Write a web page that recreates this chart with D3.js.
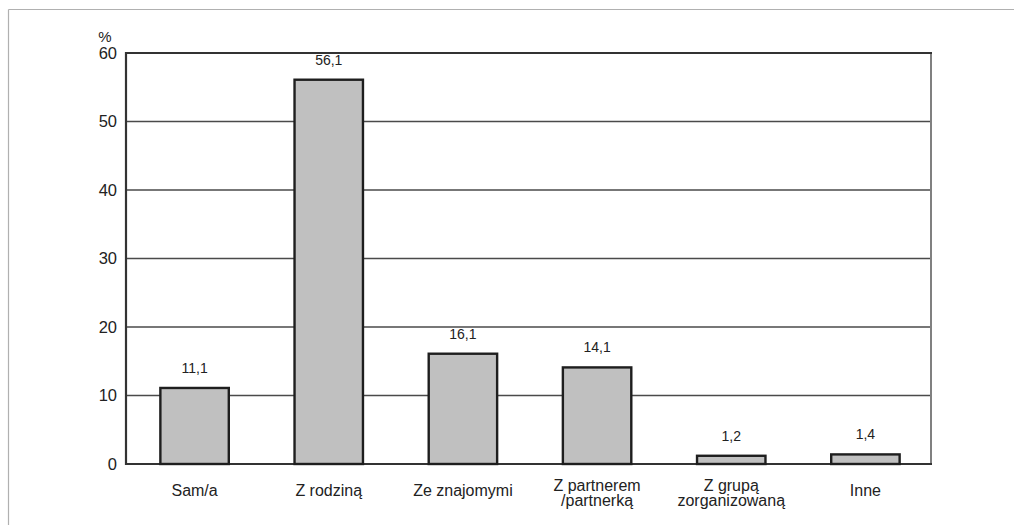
<!DOCTYPE html>
<html>
<head>
<meta charset="utf-8">
<script src="https://cdn.jsdelivr.net/npm/d3@7/dist/d3.min.js"></script>
<style>
  html, body { margin: 0; padding: 0; background: #fff; }
  svg { display: block; font-family: "Liberation Sans", Arial, sans-serif; }
</style>
</head>
<body>
<svg id="chart" width="1014" height="525"></svg>
<script>
// Categories (label lines) and percentages
const categories = [
  ["Sam/a"],
  ["Z rodziną"],
  ["Ze znajomymi"],
  ["Z partnerem", "/partnerką"],
  ["Z grupą", "zorganizowaną"],
  ["Inne"]
];
const values = [11.1, 56.1, 16.1, 14.1, 1.2, 1.4];
const valueLabels = ["11,1", "56,1", "16,1", "14,1", "1,2", "1,4"];
const yTicks = [0, 10, 20, 30, 40, 50, 60];

const svg = d3.select("#chart");
const plot = { left: 126, top: 53, right: 931, bottom: 464 };

// Outer open frame (top and left edges)
svg.append("line").attr("x1", 8.5).attr("x2", 1014).attr("y1", 9.5).attr("y2", 9.5)
  .attr("stroke", "#b0b0b0").attr("stroke-width", 1.2);
svg.append("line").attr("x1", 8.5).attr("x2", 8.5).attr("y1", 9.5).attr("y2", 525)
  .attr("stroke", "#b0b0b0").attr("stroke-width", 1.2);

const x = d3.scaleBand()
  .domain(categories.map((d, i) => i))
  .range([plot.left + 1.5, plot.right + 1.5])
  .paddingInner(0.49)
  .paddingOuter(0.245);

const y = d3.scaleLinear().domain([0, 60]).range([plot.bottom, plot.top]);

// Horizontal gridlines
svg.append("g")
  .selectAll("line")
  .data(yTicks.filter(t => t > 0 && t < 60))
  .join("line")
  .attr("x1", plot.left).attr("x2", plot.right)
  .attr("y1", d => y(d)).attr("y2", d => y(d))
  .attr("stroke", "#4a4a4a").attr("stroke-width", 1.3);

// Plot frame
svg.append("line").attr("x1", plot.right).attr("x2", plot.right)
  .attr("y1", plot.top).attr("y2", plot.bottom)
  .attr("stroke", "#808080").attr("stroke-width", 2);
svg.append("line").attr("x1", plot.left - 1).attr("x2", plot.right + 1)
  .attr("y1", plot.top).attr("y2", plot.top)
  .attr("stroke", "#333").attr("stroke-width", 2);
svg.append("line").attr("x1", plot.left).attr("x2", plot.right + 1)
  .attr("y1", plot.bottom).attr("y2", plot.bottom)
  .attr("stroke", "#333").attr("stroke-width", 2);
svg.append("line").attr("x1", plot.left).attr("x2", plot.left)
  .attr("y1", plot.top - 1).attr("y2", plot.bottom + 1)
  .attr("stroke", "#333").attr("stroke-width", 2.2);

// Y axis labels
const yAxis = d3.axisLeft(y).tickValues(yTicks).tickSize(0).tickPadding(9);
const yg = svg.append("g").attr("transform", `translate(${plot.left},0)`).call(yAxis);
yg.select(".domain").remove();
yg.selectAll("text").attr("font-size", 16.5).attr("fill", "#222")
  .attr("font-family", "'Liberation Sans', Arial, sans-serif");

svg.append("text").attr("x", 105).attr("y", 42).attr("text-anchor", "middle")
  .attr("font-size", 15).attr("fill", "#222").text("%");

// Bars
svg.append("g")
  .selectAll("rect")
  .data(values)
  .join("rect")
  .attr("x", (d, i) => x(i))
  .attr("y", d => y(d))
  .attr("width", x.bandwidth())
  .attr("height", d => y(0) - y(d))
  .attr("fill", "#c0c0c0")
  .attr("stroke", "#1e1e1e")
  .attr("stroke-width", 2.4);

// Value labels
svg.append("g")
  .selectAll("text")
  .data(values)
  .join("text")
  .attr("x", (d, i) => x(i) + x.bandwidth() / 2)
  .attr("y", d => y(d) - 15)
  .attr("text-anchor", "middle")
  .attr("font-size", 14)
  .attr("fill", "#222")
  .text((d, i) => valueLabels[i]);

// Category labels
const catG = svg.append("g")
  .selectAll("text")
  .data(categories)
  .join("text")
  .attr("x", (d, i) => x(i) + x.bandwidth() / 2)
  .attr("y", d => d.length > 1 ? 491 : 496)
  .attr("text-anchor", "middle")
  .attr("font-size", 16)
  .attr("fill", "#222");
catG.selectAll("tspan")
  .data(d => d)
  .join("tspan")
  .attr("x", function () { return d3.select(this.parentNode).attr("x"); })
  .attr("dy", (d, i) => i === 0 ? 0 : 15)
  .text(d => d);
</script>
</body>
</html>
